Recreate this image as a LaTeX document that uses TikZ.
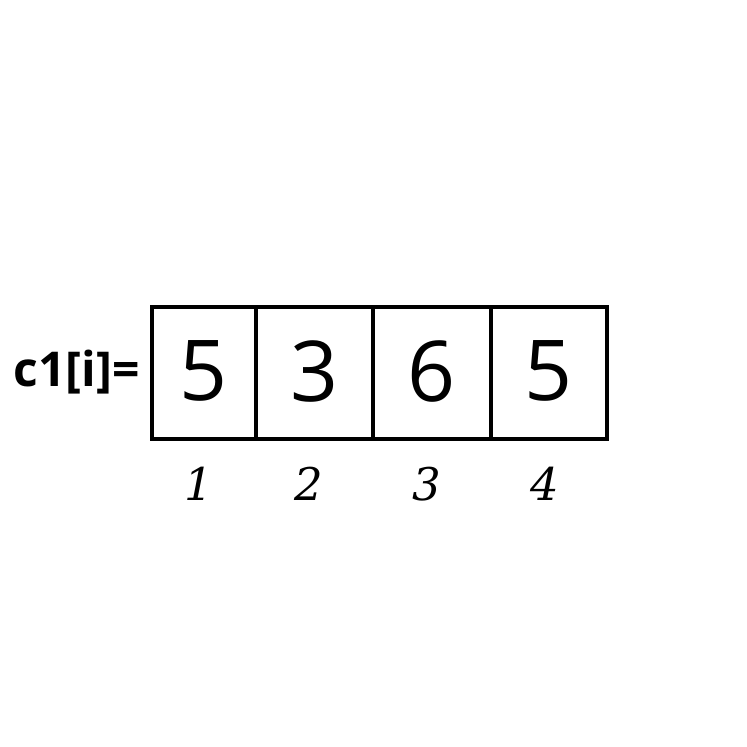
\documentclass[tikz,border=0pt]{standalone}
\usepackage{fontspec}
\setmainfont{Open Sans}
\newfontfamily\idxfont{DejaVu Serif}
\usetikzlibrary{positioning}
\tikzset{
  cell/.style={draw, line width=4pt, inner sep=0pt, minimum height=132pt, font=\fontsize{84}{84}\selectfont},
  idx/.style={inner sep=0pt, font=\idxfont\itshape\fontsize{45}{45}\selectfont}
}
\begin{document}
\begin{tikzpicture}[x=1pt,y=-1pt]
\useasboundingbox (0,0) rectangle (747,747);
\node[cell, minimum width=104pt] (c1) at (204,373) {\raisebox{4pt}{5}};
\node[cell, minimum width=117pt] (c2) at (314.5,373) {\raisebox{4pt}{3}};
\node[cell, minimum width=118pt] (c3) at (432,373) {\raisebox{4pt}{6}};
\node[cell, minimum width=116pt] (c4) at (549,373) {\raisebox{4pt}{5}};
\node[anchor=east, inner sep=0pt, font=\bfseries\fontsize{48}{48}\selectfont] (lab) at (140,372) {c1[i]=};
\node[idx, below=26pt of c1, xshift=-5pt] (i1) {1};
\node[idx, below=26pt of c2, xshift=-6pt] (i2) {2};
\node[idx, below=26pt of c3, xshift=-5pt] (i3) {3};
\node[idx, below=26pt of c4, xshift=-4pt] (i4) {4};
\end{tikzpicture}
\end{document}
